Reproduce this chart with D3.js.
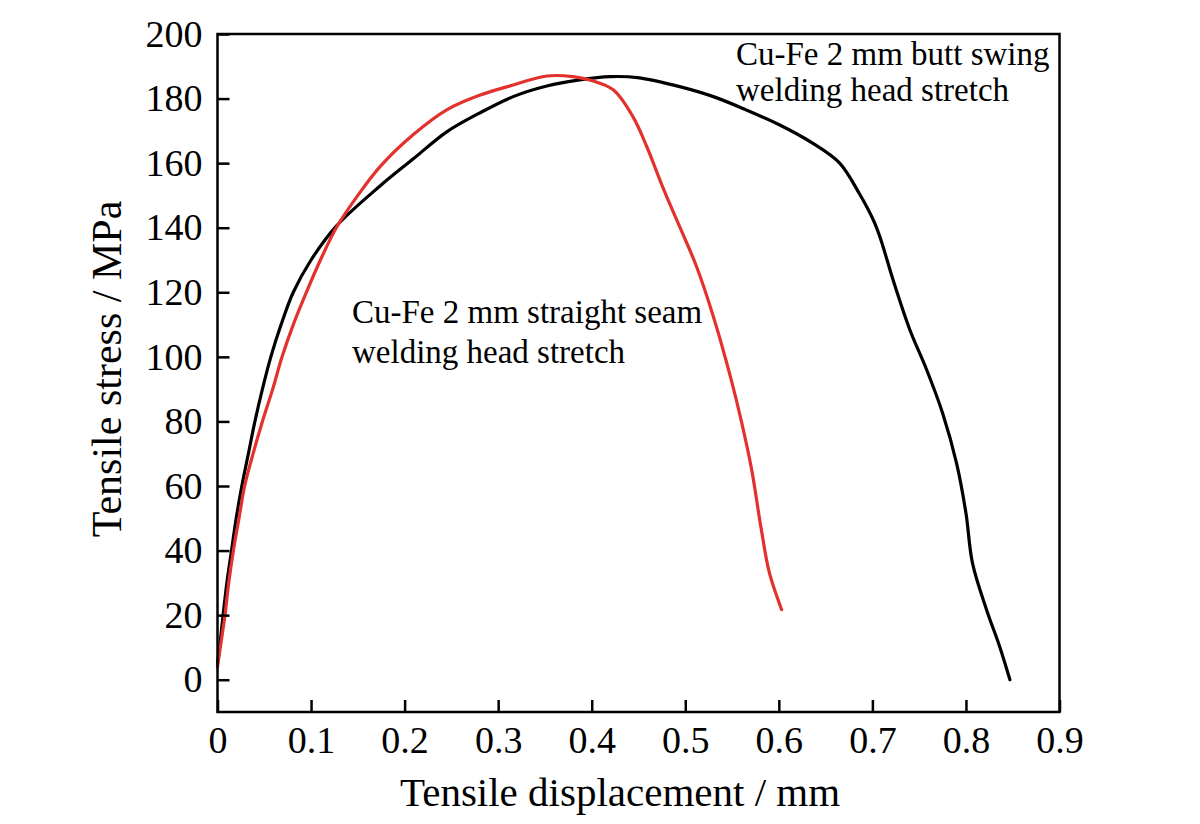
<!DOCTYPE html>
<html>
<head>
<meta charset="utf-8">
<script src="https://cdn.jsdelivr.net/npm/d3@7"></script>
<style>
body { margin: 0; background: #fff; }
svg { display: block; font-family: "Liberation Serif", "Times New Roman", serif; }
</style>
</head>
<body>
<svg id="chart"></svg>
<script>
// tick values
var xTicks = [0, 0.1, 0.2, 0.3, 0.4, 0.5, 0.6, 0.7, 0.8, 0.9]
var yTicks = [0, 20, 40, 60, 80, 100, 120, 140, 160, 180, 200]

// Cu-Fe 2 mm butt swing (black)
var swingX = [0, 0.003, 0.006, 0.010, 0.015, 0.020, 0.026, 0.033, 0.040, 0.048, 0.057, 0.068, 0.081, 0.100, 0.127, 0.174, 0.210, 0.245, 0.280, 0.316, 0.352, 0.387, 0.420, 0.449, 0.494, 0.530, 0.565, 0.601, 0.636, 0.665, 0.686, 0.701, 0.708, 0.723, 0.740, 0.758, 0.775, 0.790, 0.800, 0.807, 0.822, 0.836, 0.847]
var swingY = [5, 12, 20, 30, 40, 50, 60, 70, 80, 90, 100, 110, 120, 130, 140.5, 153, 161.5, 169.7, 175.5, 180.6, 183.9, 185.8, 186.8, 186.5, 183.7, 180.6, 176.5, 171.8, 166.2, 160, 150.6, 142.4, 137.2, 123, 108.4, 96, 82.6, 67, 51.6, 36.1, 21.7, 10.3, 0]

// Cu-Fe 2 mm straight seam (red)
var seamX = [0, 0.004, 0.008, 0.012, 0.017, 0.023, 0.029, 0.038, 0.048, 0.059, 0.069, 0.081, 0.095, 0.110, 0.127, 0.150, 0.174, 0.210, 0.245, 0.280, 0.316, 0.352, 0.380, 0.401, 0.423, 0.444, 0.459, 0.476, 0.494, 0.512, 0.530, 0.549, 0.560, 0.571, 0.581, 0.590, 0.603]
var seamY = [4, 12, 20, 30, 40, 50, 60, 70, 80, 90, 100, 110, 120, 130, 140, 150, 159, 169, 176.5, 181, 184.2, 187, 186.8, 185.5, 182.7, 174.4, 165, 152.5, 140.3, 128, 112.5, 93, 80, 65, 47, 33, 21.7]

var width = 1200
var height = 824
var margins = {left: 217.5, top: 34, right: 140.5, bottom: 112}
var plotW = width - margins.left - margins.right
var plotH = height - margins.top - margins.bottom

var svg = d3.select("#chart")
    .attr("width", width)
    .attr("height", height)

var xScale = d3.scaleLinear()
            .domain([0, 0.9])
            .range([0, plotW])

var yScale = d3.scaleLinear()
            .domain([-10, 200])
            .range([plotH, 0])

svg.append("defs")
    .append("clipPath")
    .attr("id", "plotClip")
    .append("rect")
    .attr("x", -2).attr("y", -2)
    .attr("width", plotW + 4).attr("height", plotH + 4)

var g = svg.append("g")
    .attr("id", "graph")
    .attr("transform", "translate(" + margins.left + "," + margins.top + ")")

var lineGenerator = d3.line()
    .x(function(d){ return xScale(d[0]) })
    .y(function(d){ return yScale(d[1]) })
    .curve(d3.curveCatmullRom.alpha(0.5))

var series = [
    {pts: d3.zip(swingX, swingY), color: "#000000"},
    {pts: d3.zip(seamX, seamY), color: "#e3312d"}
]

g.append("g")
    .attr("clip-path", "url(#plotClip)")
    .selectAll("path")
    .data(series)
    .enter()
    .append("path")
    .attr("d", function(s){ return lineGenerator(s.pts) })
    .attr("fill", "none")
    .attr("stroke", function(s){ return s.color })
    .attr("stroke-width", 3.2)
    .attr("stroke-linejoin", "round")
    .attr("stroke-linecap", "round")

// axes with inward ticks
var xAxis = d3.axisBottom(xScale)
    .tickValues(xTicks)
    .tickSizeInner(-12)
    .tickSizeOuter(0)
    .tickPadding(14)
    .tickFormat(function(d){ return d === 0 ? "0" : d3.format(".1f")(d) })

var yAxis = d3.axisLeft(yScale)
    .tickValues(yTicks)
    .tickSizeInner(-12)
    .tickSizeOuter(0)
    .tickPadding(15)

g.append("g")
    .attr("transform", "translate(0," + plotH + ")")
    .call(xAxis)
g.append("g")
    .call(yAxis)

svg.selectAll(".domain").remove()
svg.selectAll(".tick line")
    .attr("stroke", "#000")
    .attr("stroke-width", 2.5)
svg.selectAll(".tick text")
    .attr("fill", "#000")
    .style("font-size", "38px")
    .style("font-family", "'Liberation Serif', 'Times New Roman', serif")

g.append("rect")
    .attr("width", plotW)
    .attr("height", plotH)
    .attr("fill", "none")
    .attr("stroke", "#000")
    .attr("stroke-width", 2.5)

// axis titles
svg.append("text")
    .attr("x", 400)
    .attr("y", 806)
    .style("font-size", "41px")
    .text("Tensile displacement / mm")

svg.append("text")
    .attr("transform", "translate(121,369) rotate(-90)")
    .attr("text-anchor", "middle")
    .style("font-size", "42px")
    .text("Tensile stress / MPa")

// curve notes
var notes = [
    {x: 736, y: 65, lines: ["Cu-Fe 2 mm butt swing", "welding head stretch"], gap: 36},
    {x: 352, y: 323, lines: ["Cu-Fe 2 mm straight seam", "welding head stretch"], gap: 40}
]
notes.forEach(function(n){
    var t = svg.append("text")
        .style("font-size", "33px")
    n.lines.forEach(function(line, i){
        t.append("tspan")
            .attr("x", n.x)
            .attr("y", n.y + i * n.gap)
            .text(line)
    })
})
</script>
</body>
</html>
